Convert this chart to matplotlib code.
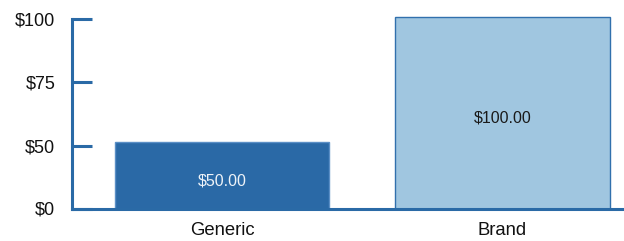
import matplotlib
matplotlib.use("Agg")
import matplotlib.pyplot as plt
from matplotlib import font_manager

# Data
categories = ["Generic", "Brand"]
bar_heights = [35.1, 100.8]          # bar heights on the drawn axis
bar_labels = ["$50.00", "$100.00"]   # value labels printed in the bars
tick_positions = [0, 33.0, 66.8, 100]
tick_labels = ["$0", "$50", "$75", "$100"]

dark = "#2a6aa6"
fills = ["#2a69a6", "#a0c6e0"]
edges = ["#5b8fc6", "#3170ad"]
label_colors = ["#eef3f8", "#1a1a1a"]

# pick regular (non-narrow) Liberation Sans
family = "DejaVu Sans"
for f in font_manager.fontManager.ttflist:
    fn = f.fname.lower()
    if "liberationsans-regular" in fn:
        font_manager.fontManager.addfont(f.fname)
        family = f.name
        break
plt.rcParams['font.family'] = [family, 'DejaVu Sans']
plt.rcParams['font.stretch'] = 'normal'

fig = plt.figure(figsize=(6.24, 2.41), dpi=100)
ax = fig.add_axes([72 / 624, 1 - 208.5 / 241, 1 - 72 / 624, (208.5 - 19) / 241])

x = list(range(len(categories)))
bars = ax.bar(x, bar_heights, width=0.766, color=fills, edgecolor=edges,
              linewidth=1.0, clip_on=False, zorder=2)

for rect, lab, col in zip(bars, bar_labels, label_colors):
    cx = rect.get_x() + rect.get_width() / 2
    cy = rect.get_height() / 2
    ax.annotate(lab, (cx, cy), xytext=(0, -3.8), textcoords="offset points",
                ha="center", va="center", fontsize=11.5, color=col, zorder=3)

ax.set_xlim(-0.535, 1.433)
ax.set_ylim(0, 100)
ax.set_xticks(x)
ax.set_xticklabels(categories, fontsize=13.3, color="#111111")
ax.tick_params(axis="x", length=0, pad=10)
ax.set_yticks(tick_positions)
ax.set_yticklabels(tick_labels, fontsize=13, color="#111111")
ax.tick_params(axis="y", direction="in", length=14.4, width=2.2, color=dark, pad=12)

for s in ["top", "right"]:
    ax.spines[s].set_visible(False)
for s in ["left", "bottom"]:
    ax.spines[s].set_color(dark)
    ax.spines[s].set_linewidth(2.2)
    ax.spines[s].set_zorder(4)
ax.spines["left"].set_capstyle("projecting")
ax.spines["bottom"].set_capstyle("projecting")

fig.savefig("out.png", dpi=100)
